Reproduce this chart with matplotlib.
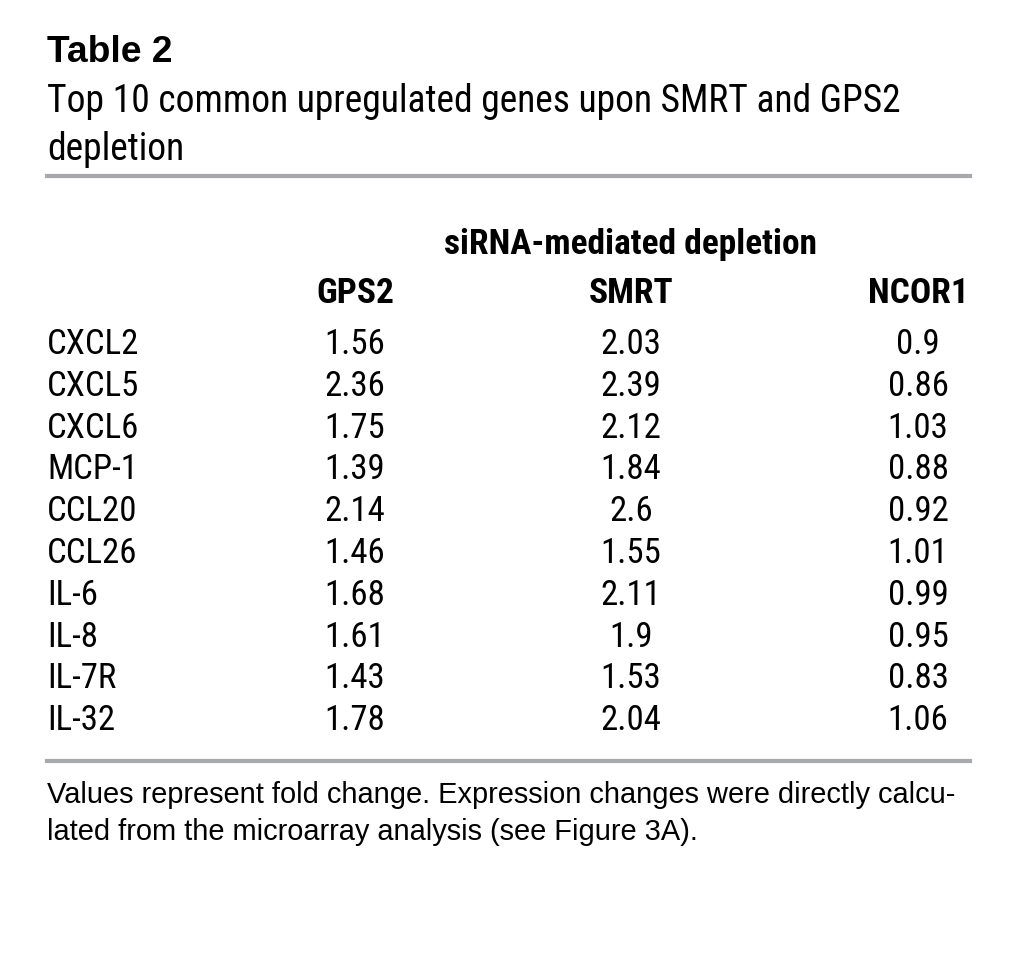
import matplotlib
matplotlib.use("Agg")
import matplotlib.pyplot as plt
from matplotlib import font_manager
from matplotlib.lines import Line2D

# table contents
genes = ["CXCL2", "CXCL5", "CXCL6", "MCP-1", "CCL20",
         "CCL26", "IL-6", "IL-8", "IL-7R", "IL-32"]
gps2 = ["1.56", "2.36", "1.75", "1.39", "2.14", "1.46", "1.68", "1.61", "1.43", "1.78"]
smrt = ["2.03", "2.39", "2.12", "1.84", "2.6", "1.55", "2.11", "1.9", "1.53", "2.04"]
ncor1 = ["0.9", "0.86", "1.03", "0.88", "0.92", "1.01", "0.99", "0.95", "0.83", "1.06"]
columns = ["GPS2", "SMRT", "NCOR1"]

W, H = 1018, 959
fig = plt.figure(figsize=(W / 100, H / 100), dpi=100)
fig.patch.set_facecolor("white")

# condensed face for the table body, plain Arial-like face for title/footnote
names = {f.name for f in font_manager.fontManager.ttflist}
narrow = "Roboto Condensed" if "Roboto Condensed" in names else "Liberation Sans"
wide = "Liberation Sans"


def put(x, y, s, **kw):
    # pixel coords, y from top, baseline anchored
    kw.setdefault("family", narrow)
    kw.setdefault("va", "baseline")
    fig.text(x / W, 1 - y / H, s, **kw)


def hline(y, lw):
    fig.add_artist(Line2D([47 / W, 970 / W], [1 - y / H, 1 - y / H],
                          color="#a7a9ac", lw=lw, transform=fig.transFigure))


put(47, 62, "Table 2", fontsize=26.8, weight="bold", family=wide)
put(47, 112, "Top 10 common upregulated genes upon SMRT and GPS2", fontsize=27)
put(47, 160, "depletion", fontsize=27)
hline(176, 3)

col_x = [355, 631, 918]
put(631, 254, "siRNA-mediated depletion", fontsize=25.5, weight="bold", ha="center")
for x, c in zip(col_x, columns):
    put(x, 303, c, fontsize=25.5, weight="bold", ha="center")

y0, step = 354, 41.8
for i, g in enumerate(genes):
    y = y0 + i * step
    put(47, y, g, fontsize=25)
    for x, vals in zip(col_x, [gps2, smrt, ncor1]):
        put(x, y, vals[i], fontsize=25, ha="center")

hline(761, 3)
put(47, 803, "Values represent fold change. Expression changes were directly calcu-",
    fontsize=20.9, family=wide)
put(47, 840, "lated from the microarray analysis (see Figure 3A).",
    fontsize=20.9, family=wide)

fig.savefig("out.png", dpi=100)
